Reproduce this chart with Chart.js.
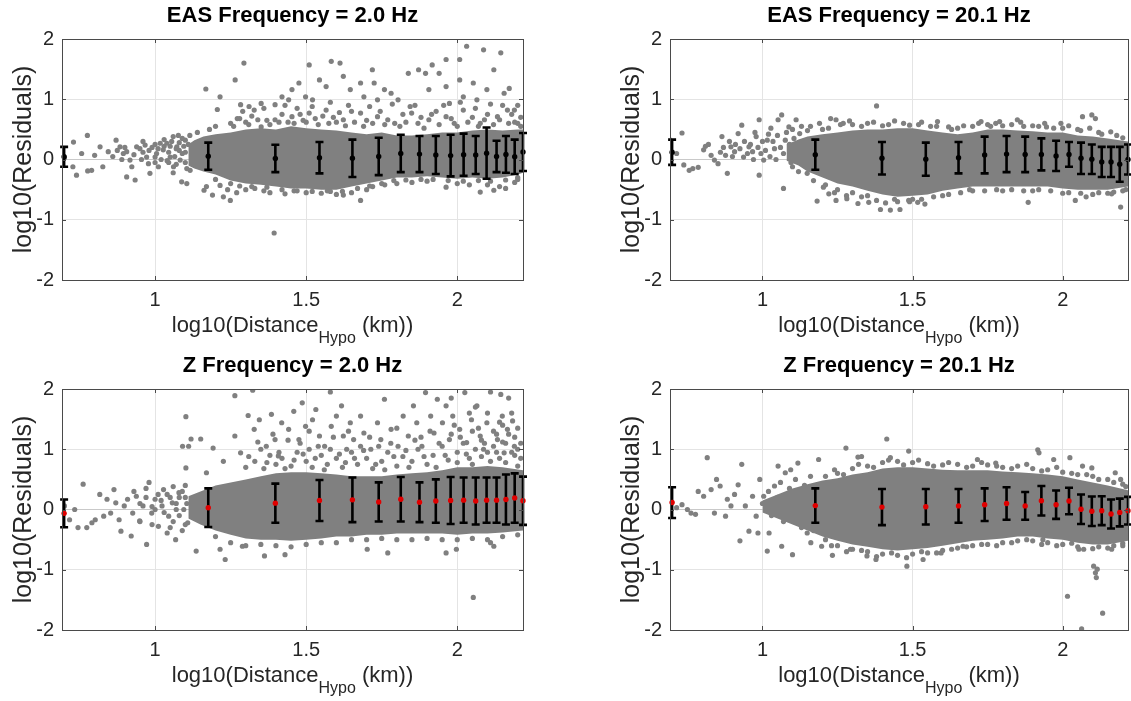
<!DOCTYPE html>
<html>
<head>
<meta charset="utf-8">
<script src="https://cdn.jsdelivr.net/npm/chart.js@4.4.1/dist/chart.umd.min.js"></script>
<style>
  html, body { margin:0; padding:0; background:#fff; overflow:hidden; }
  #wrap { position:relative; width:1131px; height:701px; background:#fff; overflow:hidden; }
  canvas { position:absolute; }
</style>
</head>
<body>
<div id="wrap">
  <canvas id="c0" width="565" height="350" style="left:0;top:0"></canvas>
  <canvas id="c1" width="567" height="350" style="left:565px;top:0"></canvas>
  <canvas id="c2" width="565" height="350" style="left:0;top:350px"></canvas>
  <canvas id="c3" width="567" height="350" style="left:565px;top:350px"></canvas>
</div>
<script>
// ---------------- DATA ----------------
const titles = ["EAS Frequency = 2.0 Hz", "EAS Frequency = 20.1 Hz", "Z Frequency = 2.0 Hz", "Z Frequency = 20.1 Hz"];
const xTicks = [1, 1.5, 2];
const yTicks = [-2, -1, 0, 1, 2];
const xRange = [0.692, 2.2175];
const yRange = [-2, 2];

// bin centres (log10 of hypocentral distance bins)
const binX = [0.699,1.176,1.398,1.544,1.653,1.740,1.813,1.875,1.929,1.978,2.021,2.061,2.097,2.130,2.161,2.190,2.2175];

const easMean2  = [0.045,0.055,0.018,0.03,0.02,0.05,0.10,0.09,0.075,0.065,0.08,0.075,0.105,0.05,0.085,0.045,0.125];
const easStd2   = [0.165,0.225,0.227,0.26,0.31,0.31,0.31,0.30,0.315,0.345,0.35,0.315,0.425,0.26,0.305,0.285,0.315];
const easMean20 = [0.12,0.08,0.02,0.005,0.03,0.075,0.09,0.085,0.085,0.06,0.085,0.02,0.005,-0.04,-0.04,-0.08,0.0];
const easStd20  = [0.21,0.25,0.27,0.275,0.26,0.305,0.30,0.295,0.265,0.25,0.205,0.26,0.245,0.25,0.25,0.29,0.25];
const zMean2    = [-0.064,0.03,0.105,0.15,0.16,0.125,0.17,0.12,0.14,0.15,0.155,0.14,0.155,0.155,0.165,0.19,0.145];
const zStd2     = [0.23,0.32,0.325,0.34,0.37,0.325,0.37,0.33,0.36,0.39,0.375,0.39,0.375,0.375,0.415,0.41,0.40];
const zMean20   = [0.115,0.065,0.04,0.045,0.06,0.08,0.10,0.06,0.145,0.08,0.14,0.005,-0.03,-0.02,-0.075,-0.05,-0.02];
const zStd20    = [0.255,0.285,0.30,0.295,0.28,0.27,0.27,0.23,0.245,0.235,0.22,0.245,0.245,0.24,0.24,0.23,0.23];

// dense core of each residual cloud: envelope
const easBandX2  = [1.11,1.13,1.16,1.20,1.25,1.30,1.35,1.40,1.45,1.50,1.55,1.60,1.65,1.70,1.75,1.80,1.85,1.90,1.95,2.00,2.05,2.10,2.15,2.20,2.2175];
const easBandHi2 = [0.25,0.32,0.38,0.42,0.45,0.50,0.52,0.50,0.55,0.52,0.50,0.48,0.45,0.42,0.45,0.40,0.40,0.42,0.45,0.45,0.48,0.50,0.48,0.50,0.50];
const easBandLo2 = [-0.10,-0.15,-0.20,-0.25,-0.35,-0.40,-0.42,-0.45,-0.48,-0.48,-0.50,-0.50,-0.45,-0.40,-0.35,-0.30,-0.30,-0.28,-0.30,-0.32,-0.30,-0.32,-0.30,-0.25,-0.22];

const easBandX20  = [1.08,1.12,1.15,1.20,1.25,1.30,1.35,1.40,1.45,1.50,1.55,1.60,1.65,1.70,1.75,1.80,1.85,1.90,1.95,2.00,2.05,2.10,2.15,2.2175];
const easBandHi20 = [0.25,0.33,0.38,0.42,0.45,0.48,0.50,0.50,0.52,0.52,0.48,0.45,0.42,0.45,0.50,0.50,0.48,0.47,0.45,0.45,0.40,0.38,0.35,0.30];
const easBandLo20 = [-0.02,-0.10,-0.20,-0.30,-0.40,-0.45,-0.52,-0.58,-0.62,-0.60,-0.58,-0.52,-0.48,-0.45,-0.45,-0.45,-0.45,-0.45,-0.45,-0.48,-0.50,-0.50,-0.50,-0.45];

const zBandX2  = [1.11,1.15,1.20,1.25,1.30,1.35,1.40,1.45,1.50,1.55,1.60,1.65,1.70,1.75,1.80,1.85,1.90,1.95,2.00,2.05,2.10,2.15,2.2175];
const zBandHi2 = [0.22,0.30,0.40,0.45,0.50,0.55,0.60,0.62,0.62,0.60,0.58,0.55,0.55,0.55,0.58,0.60,0.62,0.65,0.70,0.70,0.72,0.70,0.65];
const zBandLo2 = [-0.15,-0.25,-0.35,-0.42,-0.48,-0.50,-0.50,-0.52,-0.50,-0.48,-0.45,-0.45,-0.42,-0.42,-0.40,-0.40,-0.40,-0.40,-0.42,-0.40,-0.40,-0.38,-0.35];

const zBandX20  = [1.00,1.05,1.10,1.15,1.20,1.25,1.30,1.35,1.40,1.45,1.50,1.55,1.60,1.65,1.70,1.75,1.80,1.85,1.90,1.95,2.00,2.05,2.10,2.15,2.2175];
const zBandHi20 = [0.15,0.25,0.35,0.42,0.48,0.52,0.58,0.62,0.68,0.70,0.70,0.68,0.66,0.65,0.65,0.65,0.63,0.62,0.60,0.58,0.55,0.50,0.45,0.40,0.32];
const zBandLo20 = [-0.05,-0.15,-0.25,-0.35,-0.45,-0.52,-0.58,-0.62,-0.66,-0.68,-0.66,-0.64,-0.60,-0.56,-0.52,-0.50,-0.48,-0.45,-0.45,-0.48,-0.50,-0.55,-0.58,-0.58,-0.52];

// individual residuals outside the dense core [log10 R, log10 residual]
const easPts2 = [
[0.70,0.03],[0.73,0.29],[0.776,0.40],[0.757,0.10],[0.74,-0.26],[0.728,-0.12],[0.777,-0.19],[0.79,-0.18],[0.80,0.07],[0.818,0.21],[0.827,-0.12],[0.845,0.13],[0.871,0.32],[0.884,0.21],[0.895,0.10],[0.906,0.13],[0.917,-0.01],[0.923,-0.12],[0.906,-0.29],[0.934,-0.34],[0.939,0.21],[0.967,0.24],[0.972,0.04],[0.978,-0.07],[0.983,-0.23],[1.0,0.04],[1.011,-0.12],[1.017,0.27],[1.027,0.16],[1.039,0.27],[1.05,0.04],[1.061,-0.12],[1.072,0.21],[1.077,0.40],[1.088,-0.37],[1.105,-0.40],[1.083,-0.01],[1.116,-0.18],
[0.86,0.05],[0.875,0.15],[0.89,0.0],[0.90,0.2],[0.93,0.08],[0.95,0.18],[0.955,0.0],[0.96,0.12],[0.99,0.2],[1.0,0.25],[1.005,0.1],[1.02,0.0],[1.03,0.22],[1.045,0.12],[1.055,0.3],[1.065,0.05],[1.07,0.18],[1.08,0.28],[1.09,0.1],[1.095,0.22],[1.1,-0.05],[1.1,0.32],[1.06,-0.22],[1.045,-0.05],
[0.96,0.3],[0.98,0.15],[1.0,-0.05],[1.01,0.18],[1.03,0.33],[1.04,-0.02],[1.05,0.22],[1.06,0.38],[1.07,-0.08],[1.08,0.15],[1.09,0.35],[1.1,0.12],[1.105,-0.15],[1.11,0.25],[1.115,0.4],
[1.162,-0.51],[1.17,-0.45],[1.19,-0.59],[1.215,-0.43],[1.226,-0.62],[1.249,-0.68],[1.2,-0.33],[1.24,-0.5],[1.27,-0.55],[1.3,-0.5],[1.33,-0.48],[1.36,-0.52],[1.38,-0.55],[1.394,-1.22],[1.43,-0.57],[1.46,-0.52],[1.5,-0.55],[1.55,-0.56],[1.58,-0.53],[1.6,-0.58],[1.623,-0.59],[1.65,-0.55],[1.68,-0.68],[1.7,-0.5],[1.72,-0.45],[1.76,-0.42],[1.8,-0.4],[1.85,-0.38],[1.9,-0.36],[1.963,-0.46],[2.0,-0.4],[2.04,-0.42],[2.076,-0.54],[2.1,-0.42],[2.121,-0.51],[2.14,-0.45],[2.16,-0.48],[2.19,-0.38],[2.2,-0.33],
[1.25,-0.4],[1.28,-0.44],[1.32,-0.45],[1.37,-0.46],[1.42,-0.5],[1.47,-0.52],[1.52,-0.53],[1.57,-0.52],[1.62,-0.53],[1.67,-0.48],[1.71,-0.44],[1.75,-0.4],[1.79,-0.35],[1.83,-0.34],[1.88,-0.33],[1.92,-0.33],[1.97,-0.35],[2.02,-0.36],[2.07,-0.35],[2.11,-0.36],[2.16,-0.34],[2.2,-0.3],
[1.14,0.45],[1.18,0.5],[1.2,0.55],[1.25,0.6],[1.28,0.68],[1.3,0.62],[1.32,0.72],[1.351,0.54],[1.37,0.65],[1.397,0.66],[1.42,0.75],[1.44,0.62],[1.453,0.71],[1.47,0.85],[1.49,0.65],[1.51,0.77],[1.53,0.68],[1.566,0.82],[1.59,0.7],[1.6,0.62],[1.623,0.66],[1.65,0.8],[1.68,0.77],[1.7,0.65],[1.736,0.71],[1.76,0.58],[1.793,0.6],[1.82,0.75],[1.849,0.77],[1.87,0.6],[1.906,0.66],[1.93,0.8],[1.963,0.71],[1.99,0.6],[2.02,0.82],[2.05,0.7],[2.076,0.6],[2.1,0.75],[2.133,0.71],[2.166,0.82],[2.19,0.62],[2.21,0.7],
[1.26,0.55],[1.29,0.8],[1.31,0.58],[1.34,0.66],[1.36,0.85],[1.38,0.58],[1.41,0.62],[1.43,0.9],[1.46,0.6],[1.48,0.75],[1.5,0.62],[1.52,0.88],[1.54,0.58],[1.555,0.72],[1.575,0.6],[1.58,0.95],[1.61,0.78],[1.63,0.56],[1.64,0.9],[1.66,0.62],[1.69,0.55],[1.71,0.88],[1.72,0.6],[1.745,0.8],[1.77,0.66],[1.785,0.92],[1.81,0.55],[1.83,0.62],[1.86,0.9],[1.88,0.7],[1.89,0.52],[1.915,0.75],[1.94,0.58],[1.955,0.9],[1.98,0.68],[2.0,0.55],[2.01,0.95],[2.035,0.62],[2.06,0.85],[2.07,0.55],[2.09,0.66],[2.11,0.92],[2.12,0.58],[2.14,0.66],[2.15,0.9],[2.17,0.6],[2.18,0.75],[2.2,0.9],[2.21,0.55],
[1.168,1.17],[1.215,1.04],[1.206,0.83],[1.265,1.32],[1.294,1.6],[1.272,0.68],[1.283,0.91],[1.311,0.88],[1.328,0.82],[1.351,0.93],[1.397,0.91],[1.42,1.04],[1.442,0.99],[1.453,1.16],[1.476,1.27],[1.51,1.57],[1.498,1.04],[1.521,0.99],[1.544,1.32],[1.566,1.21],[1.583,1.63],[1.612,1.6],[1.623,1.38],[1.646,1.16],[1.68,1.27],[1.691,1.04],[1.719,1.49],[1.725,1.27],[1.736,0.99],[1.759,1.16],[1.781,1.1],[1.804,0.99],[1.838,1.43],[1.844,0.88],[1.872,1.49],[1.895,1.43],[1.917,1.57],[1.906,1.16],[1.94,1.43],[1.963,1.66],[1.963,1.21],[1.974,0.93],[2.008,1.66],[2.008,1.32],[2.02,1.04],[2.031,1.88],[2.053,1.27],[2.065,0.99],[2.087,1.82],[2.098,1.16],[2.121,1.49],[2.144,1.77],[2.155,1.1],[2.172,1.18],[2.189,0.82],[2.2,0.6]
];

const easPts20 = [
[0.69,0.33],[0.732,0.44],[0.714,0.1],[0.738,-0.09],[0.756,-0.18],[0.768,-0.15],[0.786,-0.13],[0.804,0.16],[0.81,0.22],[0.82,0.25],[0.829,0.07],[0.84,-0.01],[0.852,-0.07],[0.865,0.38],[0.877,0.07],[0.883,-0.23],[0.895,0.21],[0.907,0.13],[0.919,0.43],[0.931,0.57],[0.937,0.04],[0.955,0.21],[0.967,0.13],[0.979,0.38],[0.989,0.66],[0.989,-0.26],[1.004,-0.01],[1.016,0.32],[1.028,0.52],[1.04,0.18],[1.052,0.66],[1.064,0.74],[1.07,-0.48],[1.076,0.32],[1.088,0.54],[1.1,-0.12],[1.112,0.66],[1.124,0.43],[1.136,0.16],[1.149,-0.23],[1.161,0.21],
[0.86,0.12],[0.87,0.2],[0.89,0.3],[0.9,0.05],[0.91,0.25],[0.925,0.18],[0.94,0.3],[0.95,0.1],[0.96,0.25],[0.97,0.0],[0.975,0.45],[0.985,0.2],[0.995,0.1],[1.0,0.3],[1.01,0.15],[1.02,0.42],[1.025,0.05],[1.035,0.3],[1.045,0.0],[1.05,0.4],[1.06,0.2],[1.07,0.1],[1.08,0.45],[1.09,0.25],[1.095,-0.05],[1.1,0.5],[1.105,0.35],[1.115,0.0],[1.12,-0.2],[1.13,0.55],[1.14,-0.1],[1.15,0.48],
[1.182,-0.69],[1.227,0.68],[1.245,0.66],[1.269,0.6],[1.203,-0.46],[1.221,-0.57],[1.245,-0.68],[1.281,-0.65],[1.318,-0.73],[1.354,-0.71],[1.38,0.89],[1.393,-0.83],[1.426,-0.84],[1.458,-0.83],[1.487,-0.68],[1.517,-0.71],[1.541,-0.74],[1.583,0.63],[1.62,0.54],[1.728,0.63],[1.777,0.6],[1.849,0.66],[1.885,-0.71],[1.946,0.54],[1.994,0.6],[2.042,-0.68],[2.066,0.71],[2.097,0.74],[2.109,0.68],[2.078,-0.62],[2.163,-0.57],[2.193,-0.79],
[1.3,0.58],[1.35,0.6],[1.42,0.58],[1.47,0.6],[1.52,0.58],[1.56,0.55],[1.65,0.52],[1.7,0.55],[1.75,0.58],[1.8,0.56],[1.87,0.55],[1.92,0.55],[2.0,0.52],[2.05,0.5],[2.12,0.45],[2.18,0.4],[1.2,0.5],[1.25,-0.5],[1.3,-0.55],[1.35,-0.6],[1.45,-0.7],[1.5,-0.66],[1.6,-0.6],[1.7,-0.52],[1.8,-0.52],[1.9,-0.52],[2.0,-0.56],[2.1,-0.58],[2.15,-0.56],[2.2,-0.52],
[1.16,0.55],[1.19,0.6],[1.22,0.52],[1.26,0.58],[1.29,0.64],[1.33,0.55],[1.37,0.62],[1.4,0.56],[1.44,0.64],[1.49,0.57],[1.53,0.62],[1.58,0.55],[1.63,0.5],[1.67,0.56],[1.72,0.6],[1.76,0.55],[1.79,0.63],[1.83,0.58],[1.86,0.62],[1.9,0.56],[1.94,0.6],[1.97,0.52],[2.02,0.56],[2.06,0.48],[2.09,0.52],[2.13,0.42],[2.16,0.46],[2.2,0.36],
[1.17,-0.35],[1.21,-0.42],[1.24,-0.55],[1.28,-0.6],[1.33,-0.62],[1.38,-0.68],[1.41,-0.72],[1.44,-0.66],[1.49,-0.7],[1.53,-0.66],[1.57,-0.62],[1.62,-0.58],[1.66,-0.55],[1.69,-0.5],[1.74,-0.52],[1.78,-0.5],[1.83,-0.5],[1.87,-0.52],[1.92,-0.5],[1.96,-0.52],[2.02,-0.55],[2.06,-0.56],[2.12,-0.55],[2.17,-0.54],[2.21,-0.5]
];

const zPts2 = [
[0.7,0.06],[0.717,-0.17],[0.734,0.0],[0.745,-0.3],[0.762,0.42],[0.774,-0.3],[0.791,-0.22],[0.802,-0.17],[0.817,0.25],[0.83,-0.11],[0.841,0.17],[0.853,-0.06],[0.864,0.33],[0.87,0.11],[0.881,-0.17],[0.887,-0.36],[0.898,0.06],[0.909,0.17],[0.921,-0.44],[0.926,-0.06],[0.938,0.22],[0.949,-0.19],[0.96,0.06],[0.972,-0.58],[0.98,0.45],[0.989,-0.06],[1.0,0.17],[1.011,-0.28],[1.023,0.06],[1.028,0.33],[1.04,-0.39],[1.045,-0.11],[1.057,0.11],[1.068,-0.5],[1.079,0.28],
[0.95,0.1],[0.97,0.2],[0.99,0.05],[1.01,0.25],[1.03,-0.05],[1.05,0.2],[1.06,-0.2],[1.07,0.1],[1.08,-0.1],[1.09,0.3],[1.095,0.0],[1.1,-0.25],[1.1,0.2],
[0.93,0.3],[0.95,-0.2],[0.97,0.35],[0.99,-0.25],[1.0,0.0],[1.02,0.15],[1.04,0.25],[1.05,-0.3],[1.06,0.38],[1.07,0.0],[1.08,0.2],[1.09,-0.35],[1.1,0.4],[1.105,0.1],
[1.091,1.05],[1.111,1.05],[1.102,1.54],[1.102,0.69],[1.108,-0.22],[1.119,1.17],[1.136,-0.69],[1.151,1.17],[1.17,0.61],[1.192,1.02],[1.215,-0.66],[1.232,-0.83],[1.226,0.8],[1.264,1.89],[1.264,1.22],[1.283,0.94],[1.289,-0.61],[1.308,1.56],[1.323,1.98],[1.328,1.33],[1.345,1.49],[1.362,-0.77],[1.368,1.05],[1.385,1.58],[1.397,1.16],[1.408,0.89],[1.419,1.44],[1.43,-0.75],[1.442,1.33],[1.459,1.63],[1.476,1.16],[1.487,1.77],[1.498,1.38],[1.51,1.0],[1.521,1.49],[1.532,1.66],[1.544,1.22],[1.561,1.05],[1.58,1.95],[1.583,1.38],[1.6,1.55],[1.617,1.72],[1.623,1.22],[1.634,1.0],[1.646,1.44],[1.657,1.16],[1.68,1.55],[1.691,1.27],[1.702,-0.66],[1.714,1.0],[1.736,1.44],[1.747,1.16],[1.759,1.83],[1.77,-0.72],[1.781,1.33],[1.804,1.05],[1.821,1.55],[1.838,1.22],[1.855,1.72],[1.866,1.44],[1.883,1.05],[1.895,1.94],[1.912,1.55],[1.923,1.27],[1.934,1.83],[1.951,1.44],[1.963,1.72],[1.963,-0.72],[1.974,1.16],[1.985,1.55],[1.997,-0.66],[2.008,1.33],[2.025,1.94],[2.031,1.11],[2.053,-1.46],[2.047,1.49],[2.065,1.72],[2.076,1.22],[2.087,1.0],[2.098,1.44],[2.11,-0.55],[2.121,-0.61],[2.133,1.16],[2.144,1.91],[2.149,1.55],[2.155,0.94],[2.166,1.33],[2.183,1.47],[2.189,1.05],[2.2,0.72],
[1.3,0.7],[1.33,0.8],[1.36,0.68],[1.38,0.9],[1.4,0.75],[1.42,0.85],[1.45,0.72],[1.47,0.95],[1.5,0.8],[1.52,0.7],[1.55,0.9],[1.57,0.75],[1.6,0.85],[1.62,0.7],[1.65,0.95],[1.67,0.75],[1.7,0.85],[1.72,0.68],[1.75,0.8],[1.77,0.95],[1.8,0.72],[1.82,0.88],[1.85,0.8],[1.87,1.0],[1.9,0.75],[1.92,0.9],[1.95,1.05],[1.97,0.82],[2.0,0.95],[2.02,1.1],[2.04,0.85],[2.06,1.0],[2.08,1.15],[2.1,0.95],[2.12,1.05],[2.14,0.85],[2.16,1.1],[2.18,0.95],[2.2,1.0],[2.21,0.85],[1.88,1.2],[1.98,1.25],[2.05,1.3],[2.13,1.25],[2.19,1.2],[1.78,1.1],[1.68,1.05],[1.58,1.0],[1.48,1.1],[1.35,1.0],
[1.31,0.88],[1.34,1.12],[1.37,0.78],[1.39,1.25],[1.41,0.95],[1.43,0.68],[1.44,1.15],[1.46,0.82],[1.49,0.92],[1.51,1.3],[1.53,0.85],[1.54,1.05],[1.56,0.66],[1.59,1.2],[1.61,0.92],[1.63,0.78],[1.64,1.3],[1.66,0.85],[1.69,0.98],[1.71,1.2],[1.73,0.75],[1.74,1.05],[1.76,0.66],[1.79,0.88],[1.8,1.35],[1.83,0.98],[1.84,0.7],[1.86,1.15],[1.89,0.88],[1.91,1.3],[1.93,0.7],[1.94,1.1],[1.96,0.9],[1.99,1.4],[2.0,0.78],[2.01,1.2],[2.03,0.92],[2.04,1.6],[2.05,0.75],[2.07,1.35],[2.08,0.88],[2.09,1.1],[2.1,1.6],[2.11,0.8],[2.12,1.3],[2.13,0.95],[2.14,1.45],[2.15,1.12],[2.16,0.78],[2.17,1.25],[2.18,1.6],[2.19,0.9],[2.2,1.35],[2.21,1.1],[2.06,1.7],[2.17,1.85],[1.98,1.85],[2.11,1.95],[2.15,1.4],
[1.2,-0.45],[1.25,-0.55],[1.3,-0.6],[1.35,-0.58],[1.4,-0.6],[1.45,-0.62],[1.5,-0.58],[1.55,-0.55],[1.6,-0.55],[1.65,-0.5],[1.7,-0.5],[1.75,-0.48],[1.8,-0.5],[1.85,-0.5],[1.9,-0.48],[1.95,-0.5],[2.0,-0.5],[2.05,-0.48],[2.1,-0.5],[2.15,-0.45],[2.2,-0.42]
];

const zPts20 = [
[0.69,0.11],[0.714,0.03],[0.732,0.08],[0.75,0.0],[0.762,-0.06],[0.777,-0.08],[0.786,0.3],[0.804,0.22],[0.816,0.86],[0.829,0.33],[0.84,-0.06],[0.847,0.5],[0.859,0.39],[0.877,-0.11],[0.883,0.17],[0.895,0.06],[0.907,0.25],[0.919,0.41],[0.925,-0.52],[0.931,0.75],[0.943,0.06],[0.955,-0.36],[0.967,0.22],[0.979,-0.11],[0.985,-0.39],[0.991,0.5],[1.004,0.22],[1.016,-0.69],[1.022,-0.39],[1.04,0.39],[1.052,0.72],[1.064,-0.61],[1.076,0.61],[1.094,0.66],[1.1,-0.75],[1.118,0.77],[1.13,-0.28],[1.149,-0.39],[1.161,-0.55],[1.187,0.83],[1.197,-0.61],[1.233,-0.76],[1.278,1.02],[1.293,-0.66],[1.318,0.87],[1.33,0.88],[1.348,-0.77],[1.378,-0.83],[1.414,1.17],[1.426,0.86],[1.481,-0.94],[1.487,0.97],[1.535,-0.83],[1.595,-0.72],[1.668,-0.61],[1.716,0.83],[1.777,0.77],[1.917,0.99],[1.921,0.94],[1.934,-0.5],[1.97,0.83],[2.016,-1.44],[2.024,0.86],[2.054,-0.66],[2.066,0.72],[2.097,0.69],[2.103,-0.94],[2.109,-1.05],[2.112,-1.13],[2.115,-0.99],[2.133,-1.72],[2.063,-1.98],[2.163,-0.66],[2.175,0.61],[2.193,0.5],
[1.0,0.1],[1.02,0.3],[1.03,-0.1],[1.05,0.2],[1.06,0.45],[1.07,-0.2],[1.08,0.1],[1.09,0.35],[1.1,-0.05],[1.11,0.5],[1.12,0.2],[1.13,-0.3],[1.14,0.4],[1.15,0.0],[1.16,0.55],[1.17,-0.35],[1.18,0.3],[1.19,-0.15],
[1.25,0.6],[1.3,0.68],[1.35,0.72],[1.4,0.78],[1.45,0.8],[1.5,0.78],[1.55,0.76],[1.6,0.74],[1.65,0.75],[1.7,0.72],[1.75,0.74],[1.8,0.7],[1.85,0.72],[1.9,0.68],[1.95,0.66],[2.0,0.62],[2.05,0.58],[2.1,0.55],[2.15,0.5],[2.2,0.42],
[1.25,-0.6],[1.3,-0.66],[1.35,-0.7],[1.4,-0.74],[1.45,-0.76],[1.5,-0.74],[1.55,-0.72],[1.6,-0.68],[1.65,-0.64],[1.7,-0.6],[1.75,-0.58],[1.8,-0.55],[1.85,-0.52],[1.9,-0.52],[1.95,-0.55],[2.0,-0.58],[2.05,-0.62],[2.1,-0.65],[2.15,-0.64],[2.2,-0.6],
[1.21,0.55],[1.24,0.66],[1.27,0.58],[1.32,0.75],[1.37,0.7],[1.42,0.82],[1.47,0.74],[1.52,0.82],[1.57,0.72],[1.62,0.78],[1.68,0.7],[1.73,0.78],[1.78,0.72],[1.83,0.68],[1.88,0.75],[1.93,0.64],[1.98,0.7],[2.03,0.6],[2.08,0.58],[2.12,0.5],[2.17,0.45],[2.21,0.38],
[1.21,-0.5],[1.23,-0.6],[1.28,-0.7],[1.33,-0.68],[1.38,-0.78],[1.43,-0.72],[1.48,-0.8],[1.53,-0.7],[1.58,-0.72],[1.63,-0.66],[1.68,-0.62],[1.73,-0.58],[1.78,-0.6],[1.83,-0.55],[1.88,-0.5],[1.93,-0.58],[1.98,-0.6],[2.03,-0.56],[2.07,-0.66],[2.12,-0.62],[2.17,-0.6],[2.2,-0.56]
];

// ---------------- DRAWING ----------------
const FONT = "'Liberation Sans', Arial, Helvetica, sans-serif";
const AXC = '#262626';
const GRAY = '#808080';

function makePanel(id, title, pts, bx, blo, bhi, means, stds, meanColor, plotLeft, plotRightPad) {
  const panelPlugin = {
    id: 'panel_' + id,
    afterDatasetDraw(chart, args) {
      if (args.index !== 2) return;
      const ctx = chart.ctx, xs = chart.scales.x, ys = chart.scales.y;
      ctx.save();
      ctx.strokeStyle = '#000';
      ctx.lineWidth = 2.6;
      ctx.lineCap = 'butt';
      binX.forEach((bxv, i) => {
        const px = xs.getPixelForValue(bxv);
        const pt = ys.getPixelForValue(means[i] + stds[i]);
        const pb = ys.getPixelForValue(means[i] - stds[i]);
        ctx.beginPath();
        ctx.moveTo(px, pt); ctx.lineTo(px, pb);
        ctx.moveTo(px - 4, pt); ctx.lineTo(px + 4, pt);
        ctx.moveTo(px - 4, pb); ctx.lineTo(px + 4, pb);
        ctx.stroke();
      });
      ctx.restore();
    },
    afterDraw(chart) {
      const ctx = chart.ctx, a = chart.chartArea, xs = chart.scales.x, ys = chart.scales.y;
      ctx.save();
      ctx.strokeStyle = '#4a4a4a';
      ctx.lineWidth = 1;
      ctx.strokeRect(Math.round(a.left) + 0.5, Math.round(a.top) + 0.5, Math.round(a.right - a.left), Math.round(a.bottom - a.top));
      ctx.beginPath();
      xTicks.forEach(v => {
        const p = Math.round(xs.getPixelForValue(v)) + 0.5;
        ctx.moveTo(p, a.bottom); ctx.lineTo(p, a.bottom - 4);
        ctx.moveTo(p, a.top); ctx.lineTo(p, a.top + 4);
      });
      yTicks.forEach(v => {
        const p = Math.round(ys.getPixelForValue(v)) + 0.5;
        ctx.moveTo(a.left, p); ctx.lineTo(a.left + 4, p);
        ctx.moveTo(a.right, p); ctx.lineTo(a.right - 4, p);
      });
      ctx.stroke();
      // title
      const cx = (a.left + a.right) / 2;
      ctx.fillStyle = '#000';
      ctx.font = 'bold 22px ' + FONT;
      ctx.textAlign = 'center';
      ctx.textBaseline = 'alphabetic';
      ctx.fillText(title, cx, a.top - 17);
      // x label with subscript
      ctx.fillStyle = AXC;
      const mainF = '22px ' + FONT, subF = '16px ' + FONT;
      const p1 = 'log10(Distance', p2 = 'Hypo', p3 = ' (km))';
      ctx.font = mainF; const w1 = ctx.measureText(p1).width, w3 = ctx.measureText(p3).width;
      ctx.font = subF;  const w2 = ctx.measureText(p2).width;
      let sx = cx - (w1 + w2 + w3) / 2;
      const base = a.bottom + 52;
      ctx.textAlign = 'left';
      ctx.font = mainF; ctx.fillText(p1, sx, base); sx += w1;
      ctx.font = subF;  ctx.fillText(p2, sx, base + 11); sx += w2;
      ctx.font = mainF; ctx.fillText(p3, sx, base);
      // y label
      ctx.translate(a.left - 31, (a.top + a.bottom) / 2);
      ctx.rotate(-Math.PI / 2);
      ctx.textAlign = 'center';
      ctx.font = '25px ' + FONT;
      ctx.fillText('log10(Residuals)', 0, 0);
      ctx.restore();
    }
  };

  return new Chart(document.getElementById(id), {
    type: 'line',
    data: {
      datasets: [
        { data: bx.map((x, i) => ({ x, y: blo[i] })), borderColor: 'rgba(0,0,0,0)', borderWidth: 0, pointRadius: 0, fill: false, order: 5 },
        { data: bx.map((x, i) => ({ x, y: bhi[i] })), borderColor: 'rgba(0,0,0,0)', borderWidth: 0, pointRadius: 0, fill: '-1', backgroundColor: GRAY, order: 4 },
        { data: pts.map(p => ({ x: p[0], y: p[1] })), showLine: false, pointRadius: 2.6, pointBackgroundColor: GRAY, pointBorderWidth: 0, pointBorderColor: GRAY, order: 3 },
        { data: binX.map((x, i) => ({ x, y: means[i] })), showLine: false, pointRadius: 2.7, pointBackgroundColor: meanColor, pointBorderWidth: 0, pointBorderColor: meanColor, order: 1, clip: false }
      ]
    },
    options: {
      responsive: false,
      animation: false,
      events: [],
      layout: { padding: { left: 0, top: 39, right: plotRightPad, bottom: 0 } },
      plugins: { legend: { display: false }, tooltip: { enabled: false }, title: { display: false } },
      scales: {
        x: {
          type: 'linear', min: xRange[0], max: xRange[1],
          afterBuildTicks: s => { s.ticks = xTicks.map(v => ({ value: v })); },
          afterFit: s => { s.height = 70; },
          ticks: { color: AXC, font: { family: FONT, size: 20 }, padding: 8, maxRotation: 0, autoSkip: false, callback: v => String(v) },
          grid: { color: '#e4e4e4', lineWidth: 1, drawTicks: false },
          border: { display: false }
        },
        y: {
          type: 'linear', min: yRange[0], max: yRange[1],
          afterBuildTicks: s => { s.ticks = yTicks.map(v => ({ value: v })); },
          afterFit: s => { s.width = plotLeft; },
          ticks: { color: AXC, font: { family: FONT, size: 20 }, padding: 8, callback: v => String(v) },
          grid: { color: ctx => (ctx.tick && ctx.tick.value === 0) ? '#c9c9c9' : '#e4e4e4', lineWidth: 1, drawTicks: false },
          border: { display: false }
        }
      }
    },
    plugins: [panelPlugin]
  });
}

makePanel('c0', titles[0], easPts2,  easBandX2,  easBandLo2,  easBandHi2,  easMean2,  easStd2,  '#000', 62, 42);
makePanel('c1', titles[1], easPts20, easBandX20, easBandLo20, easBandHi20, easMean20, easStd20, '#000', 105, 0);
makePanel('c2', titles[2], zPts2,    zBandX2,    zBandLo2,    zBandHi2,    zMean2,    zStd2,    '#e00000', 62, 42);
makePanel('c3', titles[3], zPts20,   zBandX20,   zBandLo20,   zBandHi20,   zMean20,   zStd20,   '#e00000', 105, 0);
</script>
</body>
</html>
